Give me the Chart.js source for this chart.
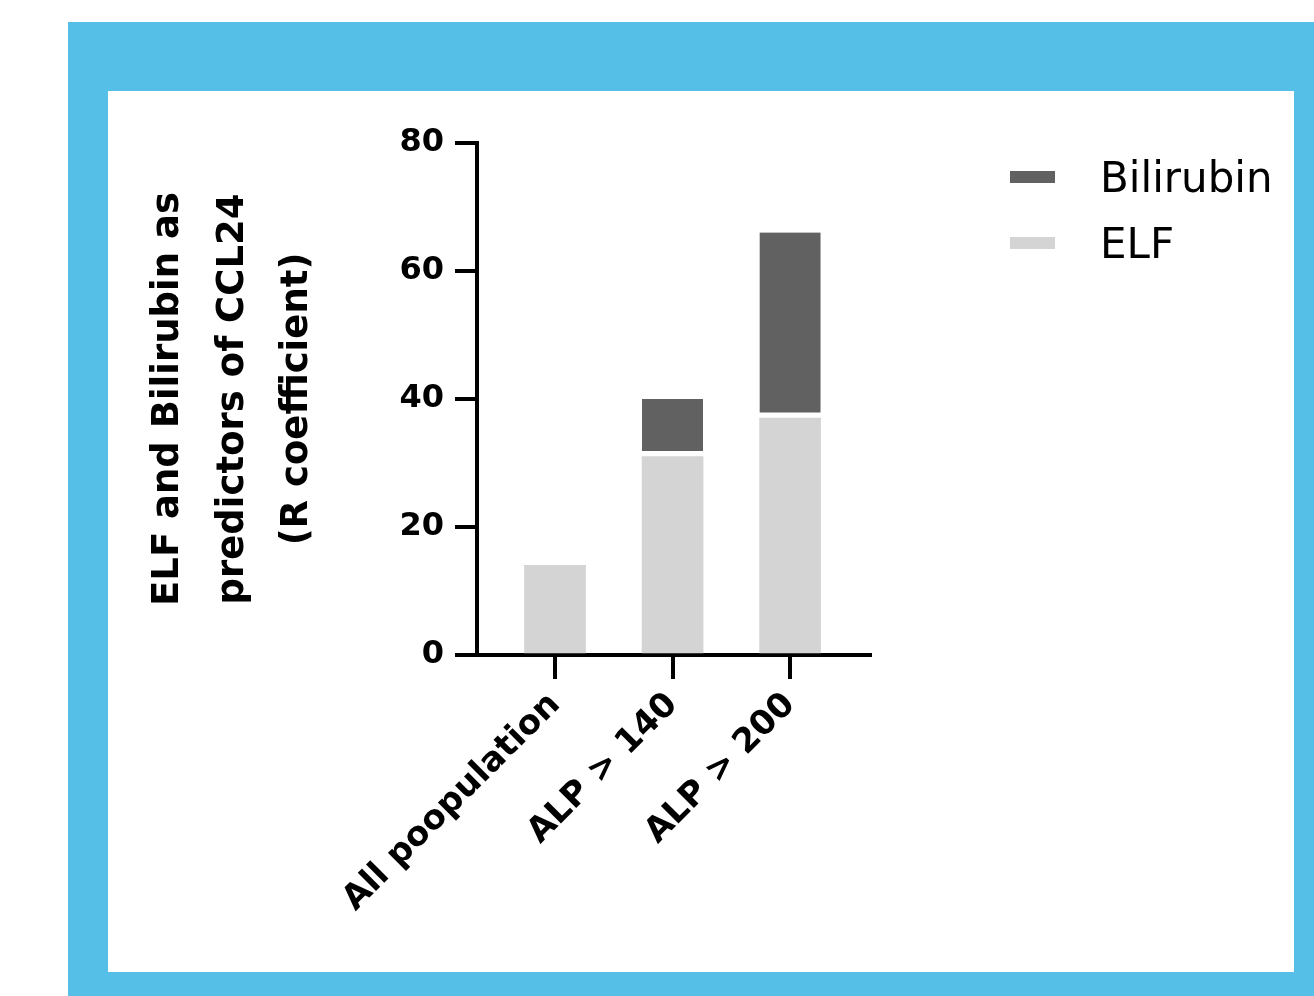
<!DOCTYPE html>
<html>
<head>
<meta charset="utf-8">
<script src="https://cdn.jsdelivr.net/npm/chart.js@4.4.1/dist/chart.umd.min.js"></script>
<style>
  body { margin: 0; background: #fff; }
  #frame { position: absolute; left: 68px; top: 22px; width: 1246px; height: 974px; background: #55bfe8; }
  #panel { position: absolute; left: 108px; top: 91px; width: 1186px; height: 881px; background: #fff; }
  #chart { display: block; }
</style>
</head>
<body>
<div id="frame"></div>
<div id="panel"><canvas id="chart" width="1186" height="881"></canvas></div>
<script>
const categories = ["All poopulation", "ALP > 140", "ALP > 200"];
const elfValues = [14, 31, 37];
const bilirubinValues = [0, 9, 29];
const yTicks = [0, 20, 40, 60, 80];
const yTitle = ["ELF and Bilirubin as", "predictors of CCL24", "(R coefficient)"];

const boldFont = (size) => ({ family: "'DejaVu Sans'", weight: "bold", size: size });

// legend drawn on the right, top item = last dataset
const sideLegend = {
    id: "sideLegend",
    afterDraw(chart) {
        const ctx = chart.ctx;
        const sets = chart.data.datasets.slice().reverse();
        ctx.save();
        ctx.font = "42px 'DejaVu Sans'";
        ctx.textBaseline = "middle";
        sets.forEach((ds, i) => {
            const y = 86 + i * 66;
            ctx.fillStyle = ds.backgroundColor;
            ctx.fillRect(902, y - 6, 45, 12);
            ctx.fillStyle = "#000";
            ctx.fillText(ds.label, 992, y + 4);
        });
        ctx.restore();
    }
};

new Chart(document.getElementById("chart"), {
    type: "bar",
    data: {
        datasets: [
            {
                label: "ELF",
                data: elfValues.map((v, i) => ({ x: i, y: v })),
                backgroundColor: "#d4d4d4",
                barThickness: 61
            },
            {
                label: "Bilirubin",
                data: bilirubinValues.map((v, i) => ({ x: i, y: v })),
                backgroundColor: "#616161",
                borderColor: "#fff",
                borderWidth: { top: 0, left: 0, right: 0, bottom: 6 },
                borderSkipped: false,
                barThickness: 61
            }
        ]
    },
    plugins: [sideLegend],
    options: {
        responsive: false,
        animation: false,
        layout: { padding: { top: 52, right: 424, left: 0, bottom: 0 } },
        plugins: { legend: { display: false }, tooltip: { enabled: false } },
        scales: {
            x: {
                type: "linear",
                stacked: true,
                offset: false,
                min: -0.664,
                max: 2.68,
                grid: { display: true, offset: false, drawOnChartArea: false, color: "#000", lineWidth: 4, tickLength: 24 },
                border: { display: true, color: "#000", width: 4 },
                ticks: {
                    stepSize: 1,
                    includeBounds: false,
                    autoSkip: false,
                    minRotation: 45,
                    maxRotation: 45,
                    padding: 6,
                    color: "#000",
                    font: boldFont(34),
                    callback: (v) => categories[v] ?? ""
                },
                afterFit: (scale) => { scale.height = 317; }
            },
            y: {
                stacked: true,
                min: 0,
                max: 80,
                grid: { display: true, drawOnChartArea: false, color: "#000", lineWidth: 4, tickLength: 22 },
                border: { display: true, color: "#000", width: 4 },
                afterBuildTicks: (scale) => { scale.ticks = yTicks.map(v => ({ value: v })); },
                ticks: { padding: 11, color: "#000", font: boldFont(32) },
                title: {
                    display: true,
                    text: yTitle,
                    color: "#000",
                    font: { family: "'DejaVu Sans'", weight: "bold", size: 37, lineHeight: 1.75 },
                    padding: { top: 28, bottom: 0 }
                },
                afterFit: (scale) => { scale.width = 369; }
            }
        }
    }
});
</script>
</body>
</html>
